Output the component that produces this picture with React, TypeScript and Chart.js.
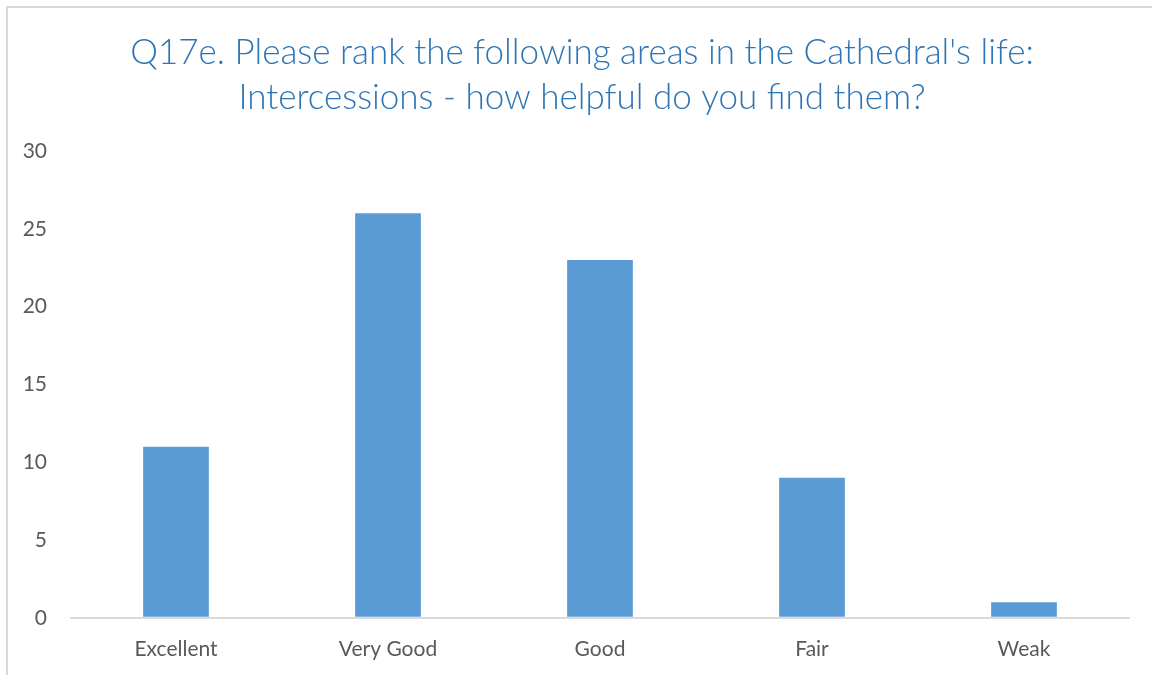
import React, { useEffect, useRef } from "react";
import { Chart, registerables } from "chart.js";

Chart.register(...registerables);

const categories = ["Excellent", "Very Good", "Good", "Fair", "Weak"];
const counts = [11, 26, 23, 9, 1];
const titleLines = [
  "Q17e. Please rank the following areas in the Cathedral's life:",
  "Intercessions - how helpful do you find them?",
];
const yMin = 0;
const yMax = 30;
const yStep = 5;

const shiftTitle = {
  id: "shiftTitle",
  afterLayout(chart: any) {
    if (chart.titleBlock) {
      chart.titleBlock.left = chart.titleBlock.left + 34;
    }
  },
};

export default function App() {
  const ref = useRef<HTMLCanvasElement | null>(null);
  useEffect(() => {
    if (!ref.current) return;
    const chart = new Chart(ref.current, {
      type: "bar",
      data: {
        labels: categories,
        datasets: [
          {
            data: counts,
            backgroundColor: "#5B9BD5",
            categoryPercentage: 1,
            barPercentage: 0.31,
          },
        ],
      },
      plugins: [shiftTitle],
      options: {
        animation: false,
        responsive: false,
        layout: { padding: { left: 0, right: 22, top: 0, bottom: -6 } },
        plugins: {
          legend: { display: false },
          tooltip: { enabled: false },
          title: {
            display: true,
            text: titleLines,
            color: "#2E75B6",
            font: { family: "Lato", size: 35, weight: 300, lineHeight: 45 / 35 },
            padding: { top: 30, bottom: 31 },
          },
        },
        scales: {
          x: {
            grid: { display: false, drawTicks: false },
            border: { display: false },
            ticks: {
              color: "#595959",
              font: { family: "Lato", size: 21 },
              padding: 19,
            },
          },
          y: {
            min: yMin,
            max: yMax,
            afterFit: (s: any) => {
              s.width = 70;
            },
            ticks: {
              stepSize: yStep,
              color: "#595959",
              font: { family: "Lato", size: 21 },
              padding: 23,
            },
            grid: {
              drawTicks: false,
              color: (c: any) => (c.tick && c.tick.value === 0 ? "#D9D9D9" : "rgba(0,0,0,0)"),
              lineWidth: 2,
            },
            border: { display: false },
          },
        },
      },
    });
    return () => chart.destroy();
  }, []);
  return (
    <div style={{ position: "fixed", left: 0, top: 0, width: 1152, height: 675, background: "#fff", overflow: "hidden" }}>
      <div
        style={{
          position: "absolute",
          left: 6,
          top: 6,
          width: 1160,
          height: 690,
          borderLeft: "2px solid #D9D9D9",
          borderTop: "2px solid #D9D9D9",
          boxSizing: "border-box",
        }}
      />
      <canvas ref={ref} width={1152} height={675} style={{ position: "absolute", left: 0, top: 0 }} />
    </div>
  );
}
